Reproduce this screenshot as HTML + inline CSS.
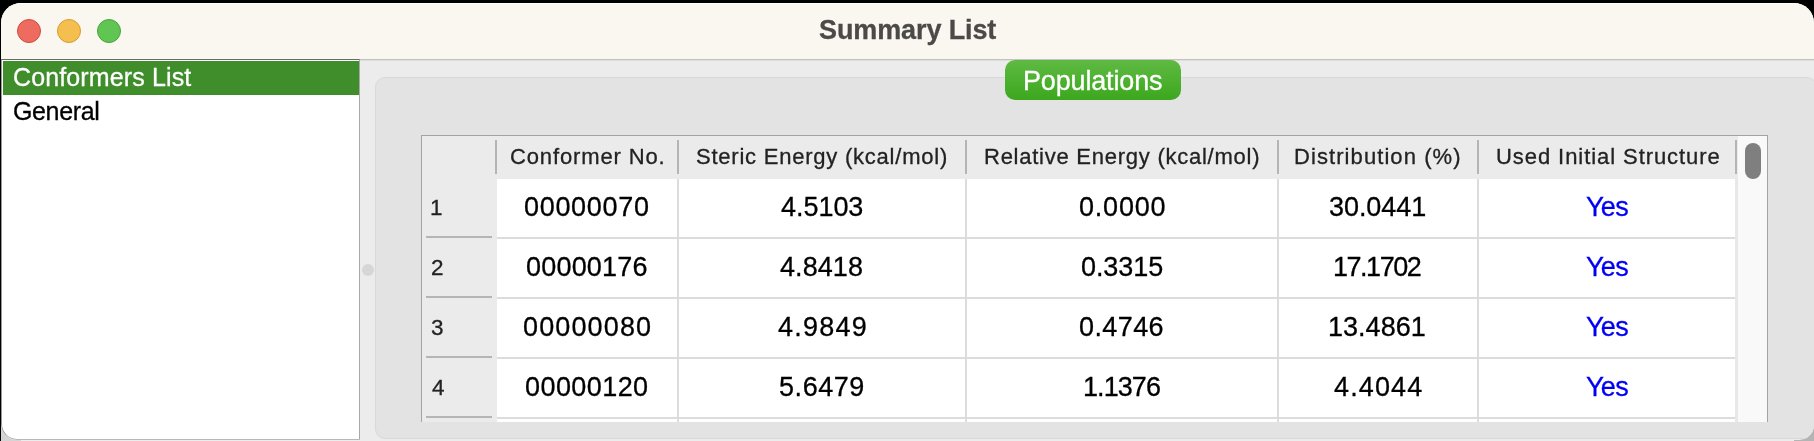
<!DOCTYPE html>
<html><head><meta charset="utf-8">
<style>
*{box-sizing:border-box;margin:0;padding:0}
html,body{width:1814px;height:441px;overflow:hidden;background:#000;font-family:"Liberation Sans",sans-serif}
.a{position:absolute}
.t{white-space:nowrap;will-change:transform;-webkit-text-stroke:0.3px currentColor}
#win{position:absolute;left:1px;top:3px;width:1813px;height:437px;background:#ececec;border-radius:20px 20px 15px 16px;overflow:hidden}
#title{position:absolute;left:0;top:0;width:100%;height:56px;background:#faf7f1;border-top:1px solid #fff}
#tsep{position:absolute;left:0;top:56px;width:100%;height:1px;background:#c4c2be;box-shadow:0 1px 1px rgba(0,0,0,0.07)}
.tl{position:absolute;width:24px;height:24px;border-radius:50%;top:15px}
#side{position:absolute;left:0;top:56px;width:359px;height:381px;background:#fff;border-top:1px solid #6a6a6a;border-right:1px solid #a8a8a8;border-bottom:1px solid #b8b8b8;border-left:1px solid #9a9a9a;border-bottom-left-radius:16px}
#sel{position:absolute;left:1px;top:1px;width:356px;height:34px;background:#3f8e2b}
#dot{position:absolute;left:361px;top:261px;width:12px;height:12px;border-radius:50%;background:#d6d6d6}
#group{position:absolute;left:374px;top:74px;width:1442px;height:362px;background:#e3e3e3;border:1px solid #d9d9d9;border-radius:10px}
#btn{position:absolute;left:1004px;top:57px;width:176px;height:40px;border-radius:10px;background:linear-gradient(#5fba43,#3ca71d)}
</style></head><body>
<div class="a" style="left:1px;top:415px;width:20px;height:26px;background:#d4d4d4"></div>
<div class="a" style="left:1794px;top:420px;width:20px;height:21px;background:#b4b4b4"></div>
<div class="a" style="left:21px;top:440px;width:1773px;height:1px;background:#ececec"></div>
<div id="win">
  <div id="title">
    <div class="tl" style="left:16px;background:#ee6b60;border:1px solid #d14a40"></div>
    <div class="tl" style="left:56px;background:#f5bf4f;border:1px solid #d69c30"></div>
    <div class="tl" style="left:96px;background:#61c554;border:1px solid #46a53a"></div>
  </div>
  <div id="tsep"></div>
  <div id="side">
    <div id="sel"></div>
  </div>
  <div id="dot"></div>
  <div id="group"></div>
  <div id="btn"></div>
</div>
<div class="a t" style="left:819.1px;top:14.1px;font-size:27px;line-height:32.4px;letter-spacing:-0.11px;font-weight:bold;color:#4b4a48">Summary List</div>
<div class="a t" style="left:13.2px;top:62.3px;font-size:25px;line-height:30.0px;letter-spacing:0.13px;color:#fff">Conformers List</div>
<div class="a t" style="left:13.2px;top:96.2px;font-size:25px;line-height:30.0px;letter-spacing:-0.37px;color:#000">General</div>
<div class="a t" style="left:1022.9px;top:65.0px;font-size:27px;line-height:32.4px;letter-spacing:-0.16px;color:#fff">Populations</div>
<div class="a" style="left:421px;top:135px;width:1347px;height:287px;background:#a3a3a3"></div>
<div class="a" style="left:422px;top:136px;width:1345px;height:286px;background:#fff"></div>
<div class="a" style="left:422px;top:136px;width:1316px;height:43px;background:#ebebeb"></div>
<div class="a" style="left:422px;top:179px;width:75px;height:243px;background:#ebebeb"></div>
<div class="a" style="left:495px;top:140px;width:2px;height:34px;background:#b4b4b4"></div>
<div class="a" style="left:677px;top:140px;width:2px;height:34px;background:#b4b4b4"></div>
<div class="a" style="left:965px;top:140px;width:2px;height:34px;background:#b4b4b4"></div>
<div class="a" style="left:1277px;top:140px;width:2px;height:34px;background:#b4b4b4"></div>
<div class="a" style="left:1477px;top:140px;width:2px;height:34px;background:#b4b4b4"></div>
<div class="a" style="left:1735px;top:140px;width:2px;height:34px;background:#b4b4b4"></div>
<div class="a" style="left:677px;top:179px;width:2px;height:243px;background:#dcdcdc"></div>
<div class="a" style="left:965px;top:179px;width:2px;height:243px;background:#dcdcdc"></div>
<div class="a" style="left:1277px;top:179px;width:2px;height:243px;background:#dcdcdc"></div>
<div class="a" style="left:1477px;top:179px;width:2px;height:243px;background:#dcdcdc"></div>
<div class="a" style="left:1735px;top:179px;width:3px;height:243px;background:#e8e8e8"></div>
<div class="a" style="left:1738px;top:136px;width:29px;height:286px;background:#f9f9f9"></div>
<div class="a" style="left:1745px;top:143px;width:16px;height:36px;background:#7f7f7f;border-radius:8px"></div>
<div class="a" style="left:497px;top:237px;width:1238px;height:2px;background:#dcdcdc"></div>
<div class="a" style="left:426px;top:236px;width:66px;height:2px;background:#b5b5b5"></div>
<div class="a" style="left:497px;top:297px;width:1238px;height:2px;background:#dcdcdc"></div>
<div class="a" style="left:426px;top:296px;width:66px;height:2px;background:#b5b5b5"></div>
<div class="a" style="left:497px;top:357px;width:1238px;height:2px;background:#dcdcdc"></div>
<div class="a" style="left:426px;top:356px;width:66px;height:2px;background:#b5b5b5"></div>
<div class="a" style="left:497px;top:417px;width:1238px;height:2px;background:#dcdcdc"></div>
<div class="a" style="left:426px;top:416px;width:66px;height:2px;background:#b5b5b5"></div>
<div class="a t" style="left:510.4px;top:143.7px;font-size:22px;line-height:26.4px;letter-spacing:0.87px;color:#222;">Conformer No.</div>
<div class="a t" style="left:696.4px;top:143.7px;font-size:22px;line-height:26.4px;letter-spacing:0.77px;color:#222;">Steric Energy (kcal/mol)</div>
<div class="a t" style="left:984.2px;top:143.7px;font-size:22px;line-height:26.4px;letter-spacing:0.75px;color:#222;">Relative Energy (kcal/mol)</div>
<div class="a t" style="left:1294.3px;top:143.7px;font-size:22px;line-height:26.4px;letter-spacing:1.08px;color:#222;">Distribution (%)</div>
<div class="a t" style="left:1495.5px;top:143.7px;font-size:22px;line-height:26.4px;letter-spacing:0.93px;color:#222;">Used Initial Structure</div>
<div class="a t" style="left:430.0px;top:194.1px;font-size:22.5px;line-height:27.0px;letter-spacing:0.0px;color:#222;">1</div>
<div class="a t" style="left:523.9px;top:191.0px;font-size:27px;line-height:32.4px;letter-spacing:0.69px;color:#000;">00000070</div>
<div class="a t" style="left:781.1px;top:191.0px;font-size:27px;line-height:32.4px;letter-spacing:-0.04px;color:#000;">4.5103</div>
<div class="a t" style="left:1078.5px;top:191.0px;font-size:27px;line-height:32.4px;letter-spacing:0.8px;color:#000;">0.0000</div>
<div class="a t" style="left:1328.5px;top:191.0px;font-size:27px;line-height:32.4px;letter-spacing:-0.07px;color:#000;">30.0441</div>
<div class="a t" style="left:1585.5px;top:191.0px;font-size:27px;line-height:32.4px;letter-spacing:-0.7px;color:#0000f2;">Yes</div>
<div class="a t" style="left:431.1px;top:254.0px;font-size:22.5px;line-height:27.0px;letter-spacing:0.0px;color:#222;">2</div>
<div class="a t" style="left:525.9px;top:251.0px;font-size:27px;line-height:32.4px;letter-spacing:0.2px;color:#000;">00000176</div>
<div class="a t" style="left:780.4px;top:251.0px;font-size:27px;line-height:32.4px;letter-spacing:0.08px;color:#000;">4.8418</div>
<div class="a t" style="left:1081.1px;top:251.0px;font-size:27px;line-height:32.4px;letter-spacing:-0.08px;color:#000;">0.3315</div>
<div class="a t" style="left:1332.7px;top:251.0px;font-size:27px;line-height:32.4px;letter-spacing:-1.47px;color:#000;">17.1702</div>
<div class="a t" style="left:1585.5px;top:251.0px;font-size:27px;line-height:32.4px;letter-spacing:-0.7px;color:#0000f2;">Yes</div>
<div class="a t" style="left:431.1px;top:314.0px;font-size:22.5px;line-height:27.0px;letter-spacing:0.0px;color:#222;">3</div>
<div class="a t" style="left:522.5px;top:311.0px;font-size:27px;line-height:32.4px;letter-spacing:1.14px;color:#000;">00000080</div>
<div class="a t" style="left:777.7px;top:311.0px;font-size:27px;line-height:32.4px;letter-spacing:1.24px;color:#000;">4.9849</div>
<div class="a t" style="left:1079.4px;top:311.0px;font-size:27px;line-height:32.4px;letter-spacing:0.4px;color:#000;">0.4746</div>
<div class="a t" style="left:1328.3px;top:311.0px;font-size:27px;line-height:32.4px;letter-spacing:0.03px;color:#000;">13.4861</div>
<div class="a t" style="left:1585.5px;top:311.0px;font-size:27px;line-height:32.4px;letter-spacing:-0.7px;color:#0000f2;">Yes</div>
<div class="a t" style="left:432.1px;top:374.0px;font-size:22.5px;line-height:27.0px;letter-spacing:0.0px;color:#222;">4</div>
<div class="a t" style="left:525.2px;top:371.0px;font-size:27px;line-height:32.4px;letter-spacing:0.43px;color:#000;">00000120</div>
<div class="a t" style="left:778.7px;top:371.0px;font-size:27px;line-height:32.4px;letter-spacing:0.56px;color:#000;">5.6479</div>
<div class="a t" style="left:1082.5px;top:371.0px;font-size:27px;line-height:32.4px;letter-spacing:-0.92px;color:#000;">1.1376</div>
<div class="a t" style="left:1333.7px;top:371.0px;font-size:27px;line-height:32.4px;letter-spacing:1.12px;color:#000;">4.4044</div>
<div class="a t" style="left:1585.5px;top:371.0px;font-size:27px;line-height:32.4px;letter-spacing:-0.7px;color:#0000f2;">Yes</div>
</body></html>
